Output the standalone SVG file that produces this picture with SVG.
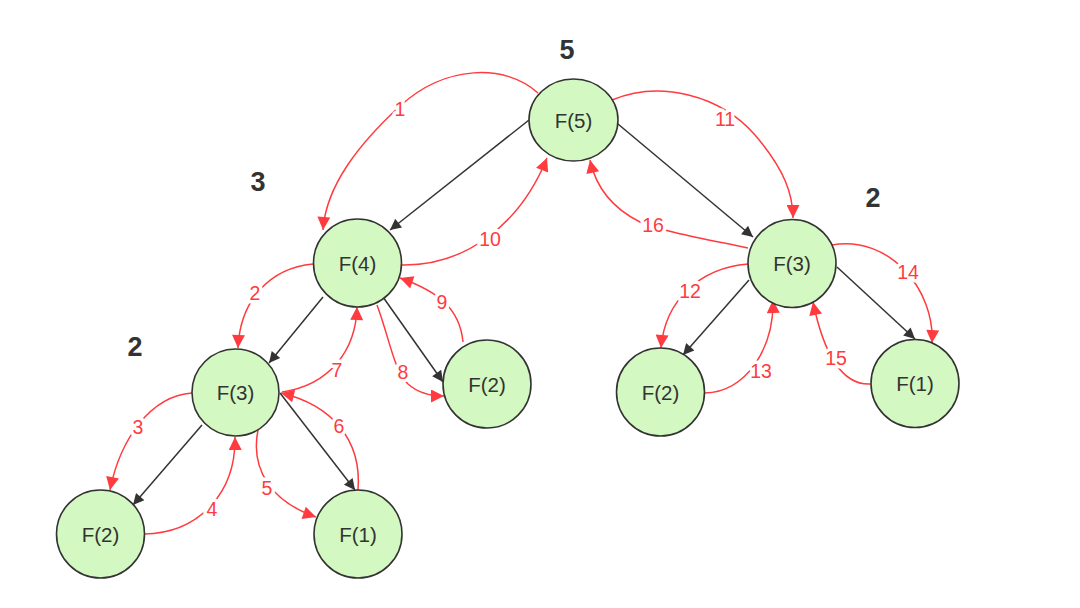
<svg xmlns="http://www.w3.org/2000/svg" width="1080" height="608" viewBox="0 0 1080 608">
<defs>
<style>
.node{fill:#d4f8c1;stroke:#333;stroke-width:1.6}
.nt{font-family:"Liberation Sans",Arial,sans-serif;font-size:20.5px;fill:#333;text-anchor:middle;dominant-baseline:central}
.big{font-family:"Liberation Sans",Arial,sans-serif;font-size:27px;font-weight:bold;fill:#333;text-anchor:middle;dominant-baseline:central}
.blk{fill:none;stroke:#333;stroke-width:1.5;marker-end:url(#ab)}
.red{fill:none;stroke:#ff3b3f;stroke-width:1.5;marker-end:url(#ar)}
.rl{font-family:"Liberation Sans",Arial,sans-serif;font-size:19.5px;fill:#ff3b3f;text-anchor:middle;dominant-baseline:central;stroke:#fff;stroke-width:7;paint-order:stroke;stroke-linejoin:round}
</style>
<marker id="ab" viewBox="0 0 10 10" refX="10" refY="5" markerWidth="15" markerHeight="11" markerUnits="userSpaceOnUse" orient="auto"><path d="M0,0 L10,5 L0,10 z" fill="#333"/></marker>
<marker id="ar" viewBox="0 0 10 10" refX="10" refY="5" markerWidth="18" markerHeight="13" markerUnits="userSpaceOnUse" orient="auto"><path d="M0,0 L10,5 L0,10 z" fill="#ff3b3f"/></marker>
</defs>
<rect width="1080" height="608" fill="#fff"/>
<g id="connectors">
<path class="blk" d="M529,120 L390,230"/>
<path class="blk" d="M618,124 L753,237"/>
<path class="blk" d="M323,297 L269,363"/>
<path class="blk" d="M383,297 L443,382"/>
<path class="blk" d="M202,425 L133,505"/>
<path class="blk" d="M280,393 L355,490"/>
<path class="blk" d="M749,280 L683,355"/>
<path class="blk" d="M837,267 L915,339"/>
<path class="red" d="M538,93 C505,63 445,65 400,106 C360,143 326,185 323,230"/>
<path class="red" d="M402,265 C465,266 520,225 547,158"/>
<path class="red" d="M612,100 C660,80 720,95 755,135 C785,170 793,195 793,218"/>
<path class="red" d="M748,248 C700,238 665,232 640,222 C612,208 596,188 590,160"/>
<path class="red" d="M313,264 C270,268 240,300 238,348"/>
<path class="red" d="M192,393 C150,396 120,440 110,490"/>
<path class="red" d="M144,534 C200,533 236,492 235,437"/>
<path class="red" d="M258,430 C250,470 272,502 316,517"/>
<path class="red" d="M358,490 C362,440 332,405 281,393"/>
<path class="red" d="M282,392 C330,385 356,350 357,307"/>
<path class="red" d="M377,305 C390,340 393,368 408,384 C418,393 430,396 444,396"/>
<path class="red" d="M463,342 C460,310 440,292 400,278"/>
<path class="red" d="M748,264 C700,268 665,300 661,348"/>
<path class="red" d="M705,393 C745,392 774,350 773,300"/>
<path class="red" d="M832,245 C890,235 935,290 932,343"/>
<path class="red" d="M871,384 C840,386 823,350 813,302"/>
<text class="rl" x="400" y="109">1</text>
<text class="rl" x="490" y="239">10</text>
<text class="rl" x="725" y="119">11</text>
<text class="rl" x="653" y="225">16</text>
<text class="rl" x="255" y="293">2</text>
<text class="rl" x="138" y="427">3</text>
<text class="rl" x="212" y="509">4</text>
<text class="rl" x="267" y="488">5</text>
<text class="rl" x="339" y="426">6</text>
<text class="rl" x="337" y="370">7</text>
<text class="rl" x="403" y="372">8</text>
<text class="rl" x="442" y="302">9</text>
<text class="rl" x="690" y="291">12</text>
<text class="rl" x="761" y="371">13</text>
<text class="rl" x="908" y="272">14</text>
<text class="rl" x="836" y="358">15</text>
</g>
<g id="n-f5"><ellipse class="node" cx="573.5" cy="120" rx="44.5" ry="41"/><text class="nt" x="573.5" y="120">F(5)</text></g>
<g id="n-f4"><circle class="node" cx="357.5" cy="263" r="44"/><text class="nt" x="357.5" y="263">F(4)</text></g>
<g id="n-f3r"><circle class="node" cx="792" cy="263.5" r="44"/><text class="nt" x="792" y="263.5">F(3)</text></g>
<g id="n-f3l"><circle class="node" cx="235.5" cy="392.5" r="43.5"/><text class="nt" x="235.5" y="392.5">F(3)</text></g>
<g id="n-f2m"><circle class="node" cx="487" cy="384" r="44"/><text class="nt" x="487" y="384">F(2)</text></g>
<g id="n-f2r"><circle class="node" cx="660.5" cy="392" r="44"/><text class="nt" x="660.5" y="392">F(2)</text></g>
<g id="n-f1r"><circle class="node" cx="915" cy="383.5" r="44"/><text class="nt" x="915" y="383.5">F(1)</text></g>
<g id="n-f2l"><circle class="node" cx="100.5" cy="534" r="44"/><text class="nt" x="100.5" y="534">F(2)</text></g>
<g id="n-f1l"><circle class="node" cx="358" cy="534" r="44"/><text class="nt" x="358" y="534">F(1)</text></g>
<g id="counts">
<text class="big" x="567" y="50">5</text>
<text class="big" x="258" y="182">3</text>
<text class="big" x="873" y="198">2</text>
<text class="big" x="135" y="347">2</text>
</g>
</svg>
